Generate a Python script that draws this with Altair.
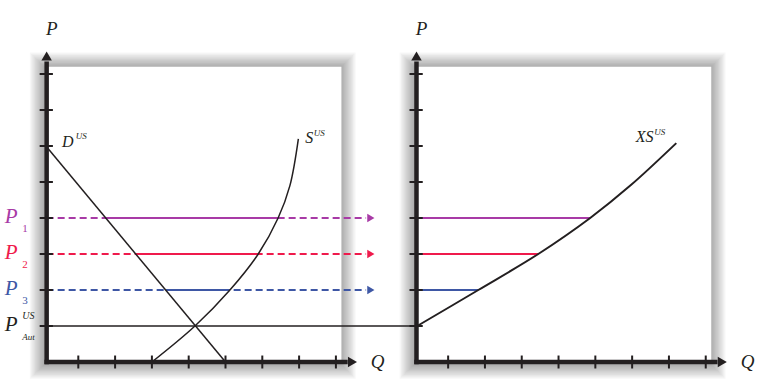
import altair as alt
import pandas as pd
import numpy as np

# ---------------- data ----------------
level_names = ["P1", "P2", "P3"]
level_subs = ["1", "2", "3"]
level_prices = [4.0, 3.0, 2.0]
level_colors = ["#a83aa6", "#ef1a4c", "#3e57a5"]
p_aut = 1.0

demand_q = [0.12, 5.0]
demand_p = [6.0, 0.0]
supply_q = [3.0, 4.17, 5.12, 5.89, 6.43, 6.75, 6.98]
supply_p = [0.0, 1.0, 2.0, 3.0, 4.0, 4.9, 6.2]
xs_q = [0.16, 1.82, 3.45, 4.86, 5.95, 7.2]
xs_p = [1.0, 2.0, 3.0, 4.0, 4.9, 6.08]
tick_values = [1, 2, 3, 4, 5, 6, 7, 8]

# ---------------- layout constants ----------------
W, H = 760, 380
UX, UY = 36.8, 36.0          # px per unit
X0, Y0 = 41.5, 362.0         # px of origin (left panel)
OFF = 10.05                  # right panel offset (units)
AX = 0.14                    # y-axis line position (units)
BOX_Q, BOX_P = 8.15, 8.2     # white panel extent
AXIS_COL = "#231f20"

xs = alt.Scale(domain=[-X0 / UX, (W - X0) / UX], nice=False, zero=False)
ys = alt.Scale(domain=[-(H - Y0) / UY, Y0 / UY], nice=False, zero=False)
X = lambda f="x": alt.X(f"{f}:Q", scale=xs, axis=None)
Y = lambda f="y": alt.Y(f"{f}:Q", scale=ys, axis=None)
colscale = alt.Scale(domain=level_names, range=level_colors)

layers = []

# ---- shadows and white panels ----
rows = []
for off in (0.0, OFF):
    for k in range(1, 12):
        dx, dy = k * 1.3 / UX, k * 1.3 / UY
        rows.append(dict(x=off + AX - 0.07 - dx, x2=off + BOX_Q + dx,
                         y=-0.07 - dy, y2=BOX_P + dy))
shadow = pd.DataFrame(rows)
layers.append(alt.Chart(shadow).mark_rect(color="black", opacity=0.03).encode(
    x=X("x"), x2="x2", y=Y("y"), y2="y2"))
panels = pd.DataFrame([dict(x=off + AX, x2=off + BOX_Q, y=0, y2=BOX_P) for off in (0.0, OFF)])
layers.append(alt.Chart(panels).mark_rect(color="white").encode(
    x=X("x"), x2="x2", y=Y("y"), y2="y2"))

# ---- autarky price line ----
aut = pd.DataFrame([dict(x=AX, x2=OFF + AX, y=p_aut)])
layers.append(alt.Chart(aut).mark_rule(color="#231f20", strokeWidth=1.6).encode(
    x=X("x"), x2="x2", y=Y("y")))

# ---- price level lines ----
d_cross = [float(np.interp(p, demand_p[::-1], demand_q[::-1])) for p in level_prices]
s_cross = [float(np.interp(p, supply_p, supply_q)) for p in level_prices]
xs_cross = [float(np.interp(p, xs_p, xs_q)) for p in level_prices]

dashed = pd.DataFrame(dict(lvl=level_names, x=AX, x2=8.82, y=level_prices))
layers.append(alt.Chart(dashed).mark_rule(strokeWidth=2, strokeDash=[7, 4]).encode(
    x=X("x"), x2="x2", y=Y("y"), color=alt.Color("lvl:N", scale=colscale, legend=None)))
solid = pd.DataFrame(dict(lvl=level_names, x=d_cross, x2=s_cross, y=level_prices))
layers.append(alt.Chart(solid).mark_rule(strokeWidth=2).encode(
    x=X("x"), x2="x2", y=Y("y"), color=alt.Color("lvl:N", scale=colscale, legend=None)))
solid_r = pd.DataFrame(dict(lvl=level_names, x=[OFF + AX] * 3,
                            x2=[OFF + v for v in xs_cross], y=level_prices))
layers.append(alt.Chart(solid_r).mark_rule(strokeWidth=2).encode(
    x=X("x"), x2="x2", y=Y("y"), color=alt.Color("lvl:N", scale=colscale, legend=None)))
arrows = pd.DataFrame(dict(lvl=level_names, x=8.95, y=level_prices))
layers.append(alt.Chart(arrows).mark_point(shape="triangle-right", filled=True, size=70, opacity=1).encode(
    x=X("x"), y=Y("y"), color=alt.Color("lvl:N", scale=colscale, legend=None)))

# ---- curves ----
dem = pd.DataFrame(dict(x=demand_q, y=demand_p))
layers.append(alt.Chart(dem).mark_line(color="#231f20", strokeWidth=1.5).encode(
    x=X(), y=Y(), order="x:Q"))
sup = pd.DataFrame(dict(x=supply_q, y=supply_p))
layers.append(alt.Chart(sup).mark_line(color="#231f20", strokeWidth=1.5, interpolate="catmull-rom").encode(
    x=X(), y=Y(), order="x:Q"))
xsd = pd.DataFrame(dict(x=[OFF + v for v in xs_q], y=xs_p))
layers.append(alt.Chart(xsd).mark_line(color="#231f20", strokeWidth=2, interpolate="catmull-rom").encode(
    x=X(), y=Y(), order="x:Q"))

# ---- axes ----
ax_rows = []
for off in (0.0, OFF):
    ax_rows.append(dict(x=off + AX, x2=off + AX, y=-0.06, y2=8.35))
    ax_rows.append(dict(x=off + AX - 0.06, x2=off + 8.32, y=0.0, y2=0.0))
axes = pd.DataFrame(ax_rows)
layers.append(alt.Chart(axes).mark_rule(color=AXIS_COL, strokeWidth=4.5).encode(
    x=X("x"), x2="x2", y=Y("y"), y2="y2"))

tk = []
for off in (0.0, OFF):
    for t in tick_values:
        tk.append(dict(x=off + t, x2=off + t, y=-0.18, y2=0.18))
        tk.append(dict(x=off + AX - 0.19, x2=off + AX + 0.17, y=t, y2=t))
ticks = pd.DataFrame(tk)
layers.append(alt.Chart(ticks).mark_rule(color=AXIS_COL, strokeWidth=2).encode(
    x=X("x"), x2="x2", y=Y("y"), y2="y2"))

heads_up = pd.DataFrame([dict(x=off + AX, y=8.5) for off in (0.0, OFF)])
layers.append(alt.Chart(heads_up).mark_point(shape="triangle-up", filled=True, size=110,
                                             color=AXIS_COL, opacity=1).encode(x=X(), y=Y()))
heads_r = pd.DataFrame([dict(x=off + 8.45, y=0.0) for off in (0.0, OFF)])
layers.append(alt.Chart(heads_r).mark_point(shape="triangle-right", filled=True, size=110,
                                            color=AXIS_COL, opacity=1).encode(x=X(), y=Y()))

# ---- text ----
txt = []
def T(text, x, y, size, color="#231f20", style="italic"):
    txt.append(dict(text=text, x=x, y=y, size=size, color=color, style=style))

for off in (0.0, OFF):
    T("P", off + 0.12, 9.25, 19)
    T("Q", off + 8.95, 0.0, 19)
T("D", 0.56, 6.11, 16)
T("US", 0.93, 6.27, 9)
T("S", 7.17, 6.22, 16)
T("US", 7.40, 6.36, 9)
T("XS", OFF + 6.1, 6.25, 16)
T("US", OFF + 6.6, 6.4, 9)
for name, sub, p, c in zip(level_names, level_subs, level_prices, level_colors):
    T("P", -1.0, p + 0.03, 21, c)
    T(sub, -0.52, p - 0.3, 11, c, "normal")
T("P", -1.0, p_aut + 0.03, 21)
T("US", -0.52, p_aut + 0.27, 10)
T("Aut", -0.52, p_aut - 0.3, 9)
labels = pd.DataFrame(txt)

for style in ("italic", "normal"):
    sub_df = labels[labels["style"] == style]
    layers.append(alt.Chart(sub_df).mark_text(font="Liberation Serif", fontStyle=style,
                                              align="left", baseline="middle").encode(
        x=X(), y=Y(), text="text:N",
        size=alt.Size("size:Q", scale=None, legend=None),
        color=alt.Color("color:N", scale=None, legend=None)))

chart = alt.layer(*layers).properties(
    width=W, height=H, autosize=alt.AutoSizeParams(type="none"), padding=0
).configure_view(stroke=None)

chart.save("out.html", embed_options={"renderer": "svg", "actions": False})
